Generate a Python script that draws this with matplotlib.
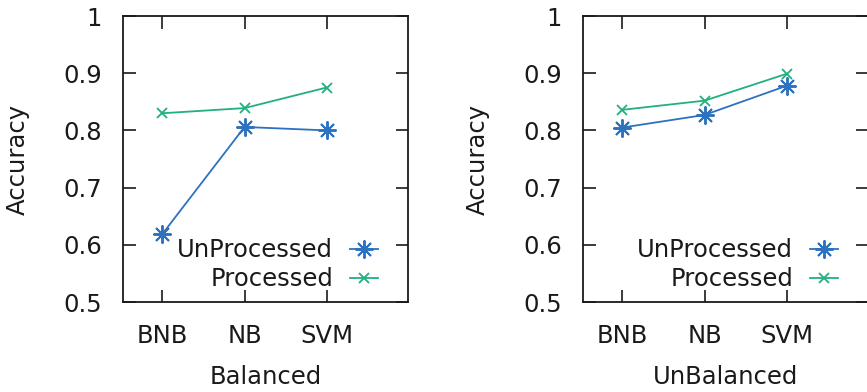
import matplotlib
matplotlib.use("Agg")
import matplotlib.pyplot as plt

categories = ["BNB", "NB", "SVM"]
balanced_unprocessed = [0.619, 0.806, 0.800]
balanced_processed = [0.830, 0.839, 0.875]
unbalanced_unprocessed = [0.805, 0.827, 0.878]
unbalanced_processed = [0.836, 0.852, 0.899]
yticks = [0.5, 0.6, 0.7, 0.8, 0.9, 1.0]
ytick_labels = ["0.5", "0.6", "0.7", "0.8", "0.9", "1"]

blue = "#2c72c0"
green = "#22b07c"
ink = "#1a1a1a"
fs = 17.5

plt.rcParams["font.family"] = ["DejaVu Sans"]
fig = plt.figure(figsize=(8.67, 3.92), dpi=100)

panels = [
    ([123 / 867, 90 / 392, 285 / 867, 286 / 392], balanced_unprocessed, balanced_processed, "Balanced"),
    ([583 / 867, 90 / 392, 285 / 867, 286 / 392], unbalanced_unprocessed, unbalanced_processed, "UnBalanced"),
]

for pos, unp, pro, xlabel in panels:
    ax = fig.add_axes(pos)
    x = list(range(len(categories)))
    ax.plot(x, unp, color=blue, lw=1.3, marker=(8, 2, 0), ms=13, mew=1.4, label="UnProcessed")
    ax.plot(x, pro, color=green, lw=1.3, marker="x", ms=7, mew=1.3, label="Processed")
    ax.set_xlim(-0.48, 2.99)
    ax.set_ylim(0.5, 1.0)
    ax.set_xticks(x)
    ax.set_xticklabels(categories)
    ax.set_yticks(yticks)
    ax.set_yticklabels(ytick_labels)
    ax.tick_params(axis="both", direction="in", length=9, width=1.2, labelsize=fs,
                   top=True, right=True, colors=ink)
    ax.tick_params(axis="y", pad=15)
    ax.tick_params(axis="x", pad=16)
    for s in ax.spines.values():
        s.set_linewidth(1.3)
        s.set_color(ink)
    ax.set_xlabel(xlabel, fontsize=fs, labelpad=12, color=ink)
    ax.set_ylabel("Accuracy", fontsize=fs, labelpad=24, color=ink)
    leg = ax.legend(loc="lower right", frameon=False, fontsize=fs, markerfirst=False,
                    handlelength=1.15, handletextpad=0.7, borderaxespad=0, borderpad=0,
                    labelspacing=0.22, bbox_to_anchor=(0.895, 0.037))
    for t in leg.get_texts():
        t.set_ha("right")
        t.set_color(ink)

fig.savefig("out.png", dpi=100)
